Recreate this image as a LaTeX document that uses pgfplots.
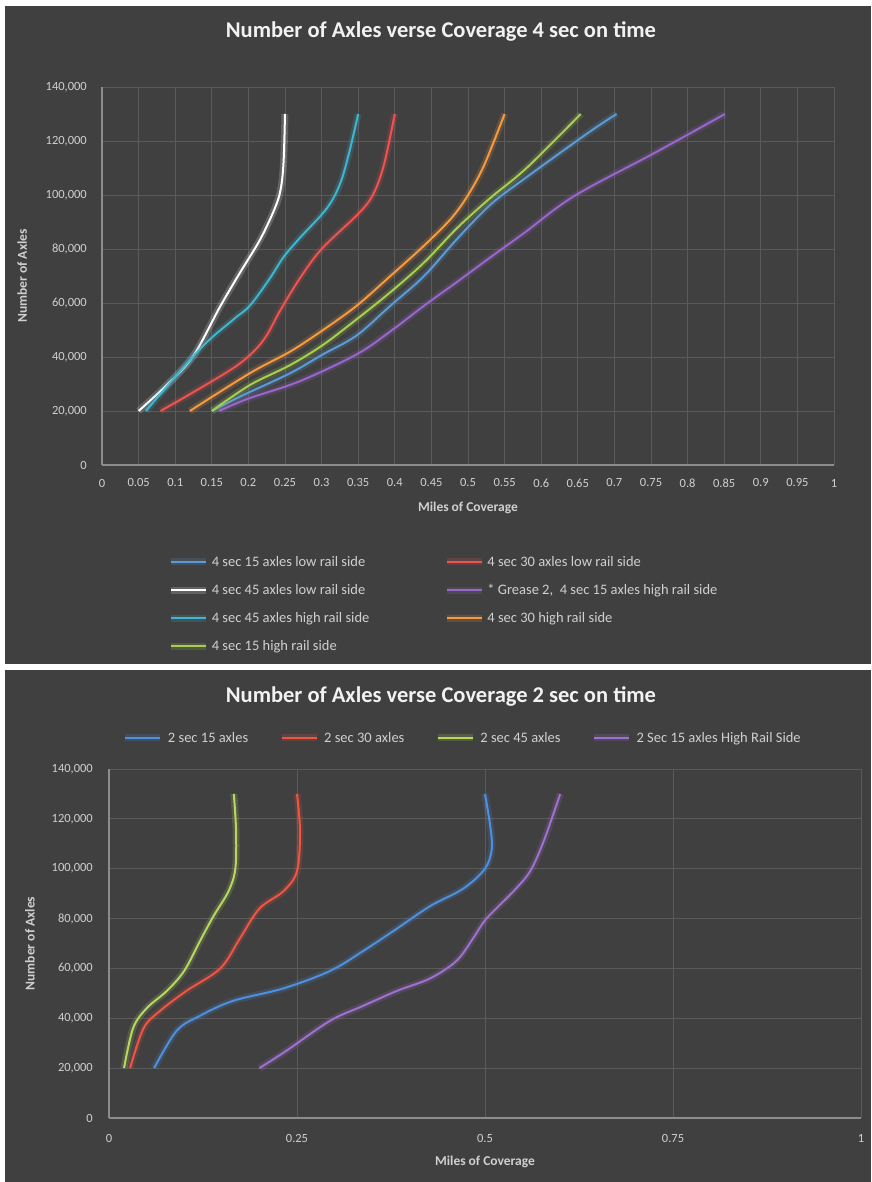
\documentclass[border=0pt]{standalone}
\usepackage{pgfplots}
\pgfplotsset{compat=1.18}
\usepackage{fontspec}
\setmainfont{Carlito}
\definecolor{bg}{HTML}{404040}
\definecolor{gridc}{HTML}{5A5A5A}
\definecolor{axc}{HTML}{8C8C8C}
\definecolor{txt}{HTML}{D0D0D0}
\definecolor{ttl}{HTML}{F2F2F2}
\definecolor{cblue}{HTML}{5B9BD5}
\definecolor{cred}{HTML}{F0524F}
\definecolor{cwhite}{HTML}{FFFFFF}
\definecolor{cpurple}{HTML}{9966CC}
\definecolor{ccyan}{HTML}{3EB6D0}
\definecolor{corange}{HTML}{F79A3E}
\definecolor{cgreen}{HTML}{A5CF4C}
\definecolor{bblue}{HTML}{4F8FE0}
\definecolor{bred}{HTML}{EE5544}
\definecolor{bgreen}{HTML}{B6D860}
\definecolor{bpurple}{HTML}{A070D0}
\pgfplotsset{
  darkaxis/.style={
    scale only axis, anchor=south west,
    xmin=0, xmax=1, ymin=0, ymax=140000,
    scaled y ticks=false, scaled x ticks=false,
    ytick={0,20000,40000,60000,80000,100000,120000,140000},
    yticklabels={0,{20,000},{40,000},{60,000},{80,000},{100,000},{120,000},{140,000}},
    grid=major, major grid style={draw=gridc, line width=0.9pt},
    axis x line*=bottom, axis y line*=left,
    axis line style={-, draw=axc, line width=1.2pt},
    major tick length=0pt,
    /pgf/number format/assume math mode=true,
    tick label style={font=\fontsize{12.5}{14}\selectfont, text=txt},
    xticklabel style={anchor=center},
    yticklabel style={anchor=east, inner sep=0pt},
    label style={font=\bfseries\fontsize{13.5}{15}\selectfont, text=txt},
    no markers,
    every axis plot/.append style={line width=2pt, smooth, tension=0.55,
      preaction={draw, line width=7pt, opacity=0.18}},
    legend image code/.code={\draw[#1] (0pt,0pt) -- (35pt,0pt);},
    legend cell align=left,
  }
}
\begin{document}
\begin{tikzpicture}[x=1pt,y=1pt]
\fill[white] (0,0) rectangle (871,1182);
\fill[bg] (5,518) rectangle (871,1176);
\fill[bg] (5,0) rectangle (871,512);
\node[font=\bfseries\fontsize{22.5}{26}\selectfont, text=ttl] at (441,1150) {Number of Axles verse Coverage 4 sec on time};
\node[font=\bfseries\fontsize{22.5}{26}\selectfont, text=ttl] at (441,485) {Number of Axles verse Coverage 2 sec on time};

\begin{axis}[darkaxis,
  at={(102pt,717pt)}, width=732pt, height=378pt,
  xtick={0,0.05,0.1,0.15,0.2,0.25,0.3,0.35,0.4,0.45,0.5,0.55,0.6,0.65,0.7,0.75,0.8,0.85,0.9,0.95,1},
  xticklabels={0,0.05,0.1,0.15,0.2,0.25,0.3,0.35,0.4,0.45,0.5,0.55,0.6,0.65,0.7,0.75,0.8,0.85,0.9,0.95,1},
  xticklabel style={yshift=-18pt},
  yticklabel style={xshift=-15pt},
  xlabel={Miles of Coverage}, ylabel={Number of Axles},
  xlabel style={at={(axis description cs:0.5,-0.114)}, anchor=center},
  ylabel style={at={(axis description cs:-0.109,0.5)}, anchor=center, rotate=0},
  legend columns=2,
  legend style={at={(axis description cs:0.0855,-0.23)}, anchor=north west,
    draw=none, fill=none, text=txt, font=\fontsize{14.5}{16}\selectfont,
    row sep=12.5pt,
    /tikz/every odd column/.append style={column sep=0pt},
    /tikz/every even column/.append style={column sep=72pt}},
]
\addplot[color=cblue] coordinates {(0.15,20000)(0.19,25500)(0.257,34000)(0.302,41000)(0.348,48000)(0.394,59000)(0.44,70000)(0.486,84000)(0.531,96500)(0.577,106000)(0.664,123000)(0.703,130000)};
\addlegendentry{4 sec 15 axles low rail side}
\addplot[color=cred] coordinates {(0.08,20000)(0.125,27000)(0.18,36000)(0.207,42000)(0.225,48000)(0.243,57000)(0.27,69000)(0.30,80000)(0.35,93000)(0.37,100000)(0.385,111000)(0.40,130000)};
\addlegendentry{4 sec 30 axles low rail side}
\addplot[color=cwhite] coordinates {(0.05,20000)(0.09,30000)(0.125,40500)(0.161,58500)(0.188,71000)(0.216,83500)(0.236,95000)(0.244,102000)(0.248,112000)(0.25,130000)};
\addlegendentry{4 sec 45 axles low rail side}
\addplot[color=cpurple] coordinates {(0.16,20000)(0.2,24600)(0.27,31000)(0.348,41000)(0.394,49500)(0.44,59000)(0.486,68000)(0.531,77000)(0.577,86000)(0.645,99600)(0.755,115600)(0.851,130000)};
\addlegendentry{* Grease 2, \ 4 sec 15 axles high rail side}
\addplot[color=ccyan] coordinates {(0.06,20000)(0.134,43000)(0.18,54000)(0.202,59000)(0.229,69000)(0.248,77000)(0.27,84000)(0.307,95000)(0.325,104000)(0.337,115000)(0.35,130000)};
\addlegendentry{4 sec 45 axles high rail side}
\addplot[color=corange] coordinates {(0.12,20000)(0.202,34000)(0.257,42000)(0.302,50000)(0.348,59000)(0.394,70000)(0.439,81000)(0.476,91000)(0.499,99500)(0.522,111000)(0.55,130000)};
\addlegendentry{4 sec 30 high rail side}
\addplot[color=cgreen] coordinates {(0.15,20000)(0.202,29600)(0.257,37000)(0.302,44500)(0.348,54000)(0.394,64000)(0.44,75000)(0.486,88000)(0.531,99000)(0.58,110000)(0.654,130000)};
\addlegendentry{4 sec 15 high rail side}
\end{axis}

\begin{axis}[darkaxis,
  at={(109pt,64pt)}, width=752pt, height=349pt,
  xtick={0,0.25,0.5,0.75,1},
  xticklabels={0,0.25,0.5,0.75,1},
  xticklabel style={yshift=-20pt},
  yticklabel style={xshift=-16pt},
  xlabel={Miles of Coverage}, ylabel={Number of Axles},
  xlabel style={at={(axis description cs:0.5,-0.126)}, anchor=center},
  ylabel style={at={(axis description cs:-0.105,0.5)}, anchor=center, rotate=0},
  legend columns=4,
  legend style={at={(axis description cs:0.013,1.089)}, anchor=west,
    draw=none, fill=none, text=txt, font=\fontsize{14.5}{16}\selectfont,
    /tikz/every odd column/.append style={column sep=2pt},
    /tikz/every even column/.append style={column sep=28pt}},
]
\addplot[color=bblue] coordinates {(0.06,20000)(0.09,35000)(0.121,41000)(0.165,47000)(0.232,52000)(0.294,59000)(0.338,67000)(0.383,76000)(0.427,85000)(0.471,92000)(0.5,100000)(0.509,108000)(0.507,117000)(0.5,130000)};
\addlegendentry{2 sec 15 axles}
\addplot[color=bred] coordinates {(0.028,20000)(0.046,36000)(0.068,43000)(0.103,51000)(0.148,60000)(0.174,72000)(0.2,84000)(0.232,91000)(0.25,99000)(0.254,115000)(0.25,130000)};
\addlegendentry{2 sec 30 axles}
\addplot[color=bgreen] coordinates {(0.02,20000)(0.032,36000)(0.05,44000)(0.077,51000)(0.1,59000)(0.121,71000)(0.139,81000)(0.159,91000)(0.168,100000)(0.169,115000)(0.166,130000)};
\addlegendentry{2 sec 45 axles}
\addplot[color=bpurple] coordinates {(0.2,20000)(0.236,27000)(0.294,39000)(0.338,45000)(0.383,51000)(0.427,56000)(0.462,63000)(0.484,72000)(0.502,80000)(0.538,91000)(0.56,99000)(0.578,111000)(0.6,130000)};
\addlegendentry{2 Sec 15 axles High Rail Side}
\end{axis}
\pgfresetboundingbox
\path[use as bounding box] (0,0) rectangle (871,1182);
\end{tikzpicture}
\end{document}
